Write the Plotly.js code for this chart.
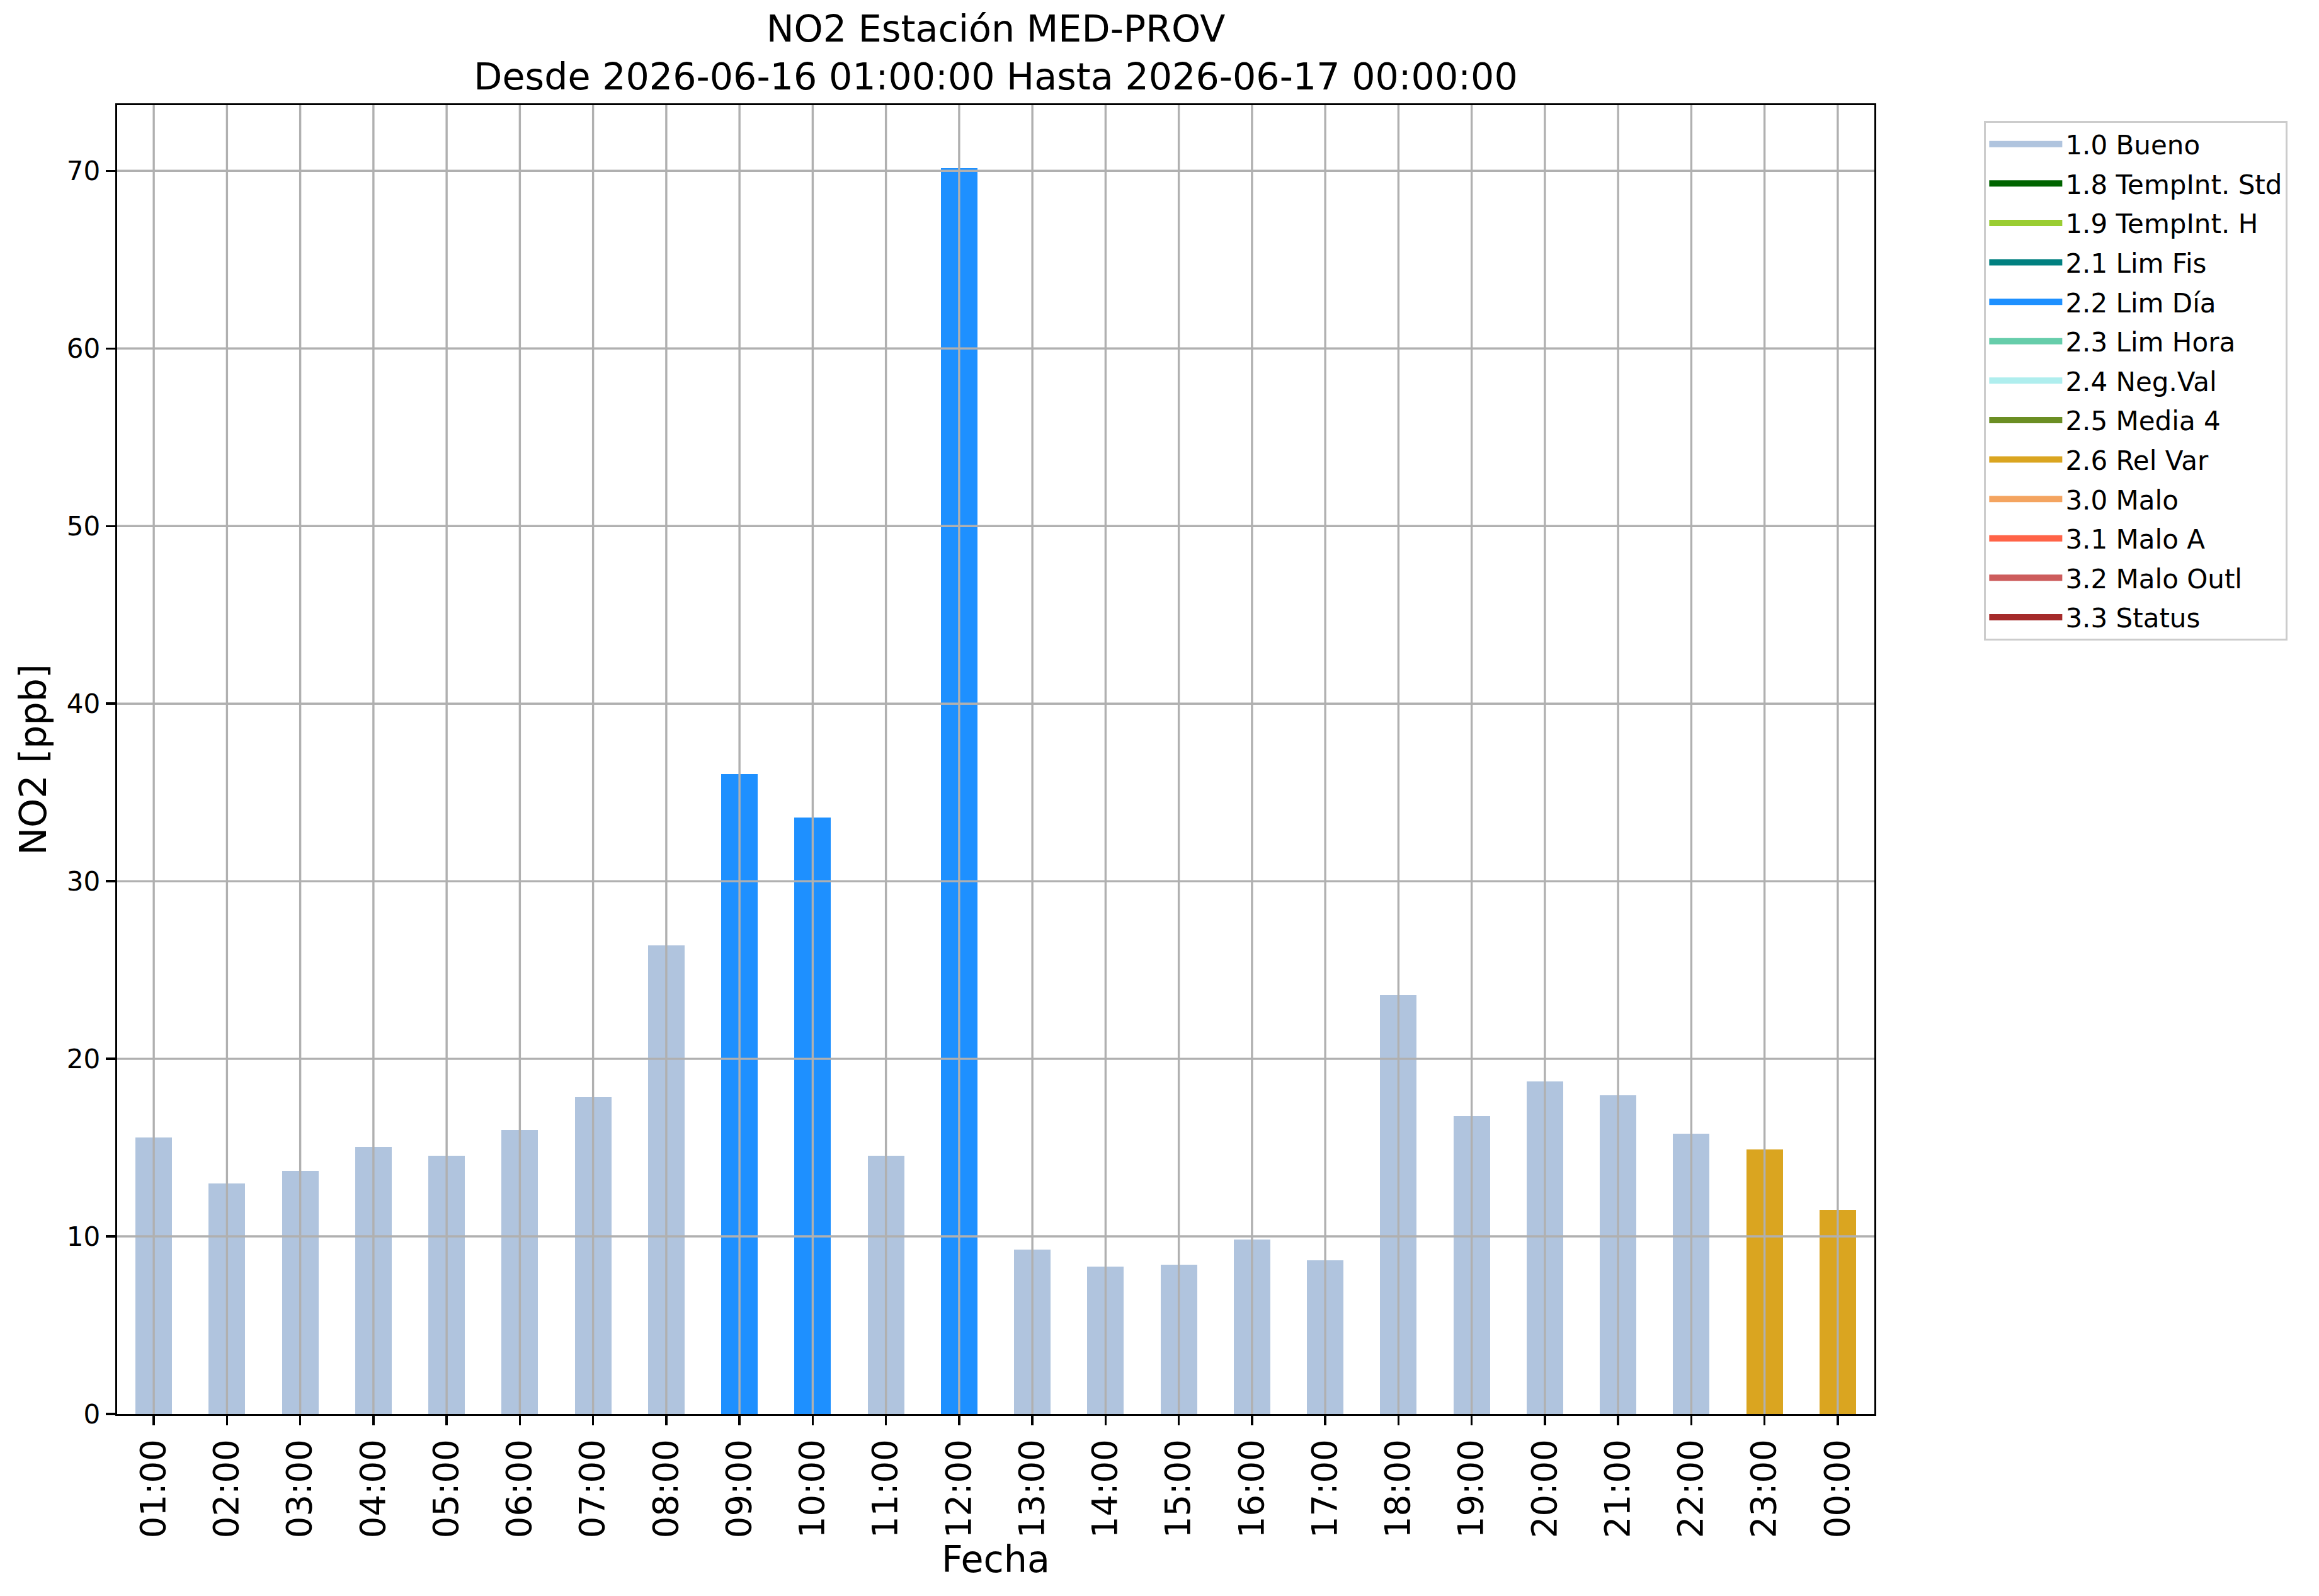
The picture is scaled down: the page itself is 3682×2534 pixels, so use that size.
<!DOCTYPE html>
<html>
<head>
<meta charset="utf-8">
<script src="https://cdn.plot.ly/plotly-3.0.1.min.js"></script>
<style>html,body{margin:0;padding:0;background:#fff;}#chart{width:3682px;height:2534px;}</style>
</head>
<body>
<div id="chart"></div>
<script>
// ---- data ----
const hours = ['01:00','02:00','03:00','04:00','05:00','06:00','07:00','08:00','09:00','10:00','11:00','12:00',
               '13:00','14:00','15:00','16:00','17:00','18:00','19:00','20:00','21:00','22:00','23:00','00:00'];
const no2Values = [15.58,12.97,13.68,15.05,14.55,16.01,17.85,26.39,36.04,33.57,14.53,70.15,
                   9.27,8.31,8.39,9.84,8.64,23.58,16.77,18.74,17.93,15.77,14.88,11.50];
const hourFlags = ['1.0','1.0','1.0','1.0','1.0','1.0','1.0','1.0','2.2','2.2','1.0','2.2',
                   '1.0','1.0','1.0','1.0','1.0','1.0','1.0','1.0','1.0','1.0','2.6','2.6'];
const flagCodes = ['1.0','1.8','1.9','2.1','2.2','2.3','2.4','2.5','2.6','3.0','3.1','3.2','3.3'];
const flagLabels = ['1.0 Bueno','1.8 TempInt. Std','1.9 TempInt. H','2.1 Lim Fis','2.2 Lim Día','2.3 Lim Hora',
                    '2.4 Neg.Val','2.5 Media 4','2.6 Rel Var','3.0 Malo','3.1 Malo A','3.2 Malo Outl','3.3 Status'];
const flagColors = ['#B0C4DE','#006400','#9ACD32','#008080','#1E90FF','#66CDAA','#AFEEEE','#6B8E23',
                    '#DAA520','#F4A460','#FF6347','#CD5C5C','#A52A2A'];
const yTicks = [0,10,20,30,40,50,60,70];
const titleLines = ['NO2 Estación MED-PROV','Desde 2026-06-16 01:00:00 Hasta 2026-06-17 00:00:00'];

// ---- traces: one bar trace per quality flag ----
const barTraces = flagCodes.map((code, i) => ({
  type: 'bar',
  name: flagLabels[i],
  legendgroup: 'g' + i,
  showlegend: false,
  x: hours,
  y: no2Values.map((v, j) => hourFlags[j] === code ? v : null),
  width: 0.5,
  marker: {color: flagColors[i], line: {width: 0}}
}));
// legend entries (wide rectangular handles like matplotlib's patches)
const legendTraces = flagCodes.map((code, i) => ({
  type: 'scatter', mode: 'lines',
  name: flagLabels[i],
  legendgroup: 'g' + i,
  showlegend: true,
  x: [null], y: [null],
  line: {color: flagColors[i], width: 17}
}));

// gridlines drawn above bars (as matplotlib does)
const gridColor = '#b0b0b0';
const shapes = [];
hours.forEach(h => shapes.push({type:'line', layer:'above', xref:'x', yref:'paper', x0:h, x1:h, y0:0, y1:1,
  line:{color:gridColor, width:3.4}}));
yTicks.filter(v => v > 0).forEach(v => shapes.push({type:'line', layer:'above', xref:'paper', yref:'y', x0:0, x1:1, y0:v, y1:v,
  line:{color:gridColor, width:3.4}}));

const font = 'DejaVu Sans, sans-serif';
const layout = {
  width: 3682, height: 2534,
  paper_bgcolor: '#ffffff', plot_bgcolor: '#ffffff',
  font: {family: font, color: '#000000', size: 42},
  margin: {l: 186, r: 706, t: 167, b: 289, autoexpand: false},
  barmode: 'stack',
  bargap: 0,
  showlegend: true,
  title: {
    text: titleLines.join('<br>'),
    font: {family: font, size: 58.7, color: '#000'},
    xref: 'paper', x: 0.5, xanchor: 'center',
    yref: 'container', y: 1 - 66 / 2534, yanchor: 'top'
  },
  xaxis: {
    type: 'category',
    categoryorder: 'array', categoryarray: hours,
    range: [-0.5, hours.length - 0.5],
    showgrid: false, zeroline: false,
    showline: true, linecolor: '#000', linewidth: 3.4, mirror: true,
    ticks: 'outside', ticklen: 15, tickwidth: 3.4, tickcolor: '#000',
    tickangle: -90,
    tickfont: {family: font, size: 54.5, color: '#000'},
    title: {text: 'Fecha', font: {family: font, size: 58.7, color: '#000'}, standoff: 10},
    automargin: false
  },
  yaxis: {
    range: [0, 73.7],
    tickvals: yTicks,
    showgrid: false, zeroline: false,
    showline: true, linecolor: '#000', linewidth: 3.4, mirror: true,
    ticks: 'outside', ticklen: 15, tickwidth: 3.4, tickcolor: '#000',
    tickfont: {family: font, size: 42, color: '#000'},
    title: {text: 'NO2 [ppb]', font: {family: font, size: 58.7, color: '#000'}, standoff: 14},
    automargin: false
  },
  legend: {
    xref: 'paper', yref: 'paper',
    x: 1.0625, y: 0.988, xanchor: 'left', yanchor: 'top',
    bgcolor: '#ffffff', bordercolor: '#cccccc', borderwidth: 3,
    font: {family: font, size: 42, color: '#000'},
    tracegroupgap: 5,
    itemwidth: 116,
    traceorder: 'grouped'
  },
  shapes: shapes
};

Plotly.newPlot('chart', barTraces.concat(legendTraces), layout, {staticPlot: true});
</script>
</body>
</html>
